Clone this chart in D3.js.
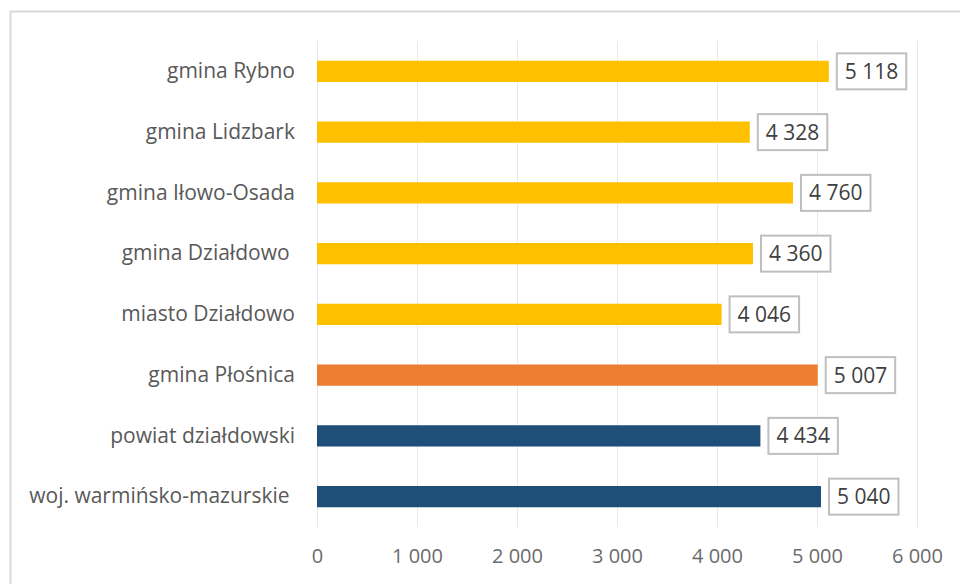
<!DOCTYPE html>
<html>
<head>
<meta charset="utf-8">
<script src="https://cdn.jsdelivr.net/npm/d3@7"></script>
<style>
  body { margin: 0; background: #fff; }
  svg { display: block; font-family: "Open Sans", sans-serif; }
</style>
</head>
<body>
<svg id="chart" width="960" height="584"></svg>
<script>
// Categories (top to bottom) and their values
const categories = [
  "gmina Rybno",
  "gmina Lidzbark",
  "gmina Iłowo-Osada",
  "gmina Działdowo ",
  "miasto Działdowo",
  "gmina Płośnica",
  "powiat działdowski",
  "woj. warmińsko-mazurskie "
];
const values = [5118, 4328, 4760, 4360, 4046, 5007, 4434, 5040];
const barColors = ["#FFC000", "#FFC000", "#FFC000", "#FFC000", "#FFC000", "#ED7D31", "#1F4E79", "#1F4E79"];
const tickValues = [0, 1000, 2000, 3000, 4000, 5000, 6000];

const svg = d3.select("#chart");
const W = 960, H = 584;
const margin = { left: 317, right: 43, top: 41, bottom: 57 };
const FONT = "'Open Sans', sans-serif";

// outer chart frame
svg.append("rect")
  .attr("x", 10.5).attr("y", 11.5)
  .attr("width", 980).attr("height", 600)
  .attr("fill", "#fff").attr("stroke", "#d9d9d9").attr("stroke-width", 2);

const x = d3.scaleLinear().domain([0, 6000]).range([margin.left, W - margin.right]);
const y = d3.scaleBand().domain(categories).range([margin.top, H - margin.bottom]).paddingInner(0.65).paddingOuter(0.325);

const fmtSpace = v => d3.format(",")(v).replace(/,/g, " ");

// vertical gridlines
svg.append("g").selectAll("line").data(tickValues).join("line")
  .attr("x1", d => Math.round(x(d)) + 0.5).attr("x2", d => Math.round(x(d)) + 0.5)
  .attr("y1", margin.top).attr("y2", H - margin.bottom)
  .attr("stroke", "#e8e8e8").attr("stroke-width", 1);

// x axis labels
const xAxis = d3.axisBottom(x).tickValues(tickValues).tickSize(0).tickPadding(0).tickFormat(fmtSpace);
const gx = svg.append("g").attr("transform", `translate(0,${H - margin.bottom + 22})`).call(xAxis);
gx.select(".domain").remove();
gx.selectAll("text").attr("fill", "#6b6b6b").attr("font-size", 20).attr("font-family", FONT);

// category labels
const yAxis = d3.axisLeft(y).tickSize(0).tickPadding(22);
const gy = svg.append("g").attr("transform", `translate(${margin.left},0)`).call(yAxis);
gy.select(".domain").remove();
gy.selectAll("text").attr("fill", "#595959").attr("font-size", 21)
  .attr("font-family", FONT).style("white-space", "pre");

// bars
svg.append("g").selectAll("rect").data(values).join("rect")
  .attr("x", x(0))
  .attr("y", (d, i) => y(categories[i]))
  .attr("width", d => x(d) - x(0))
  .attr("height", y.bandwidth())
  .attr("fill", (d, i) => barColors[i]);

// value labels in boxes
const lbl = svg.append("g").selectAll("g").data(values).join("g")
  .attr("transform", (d, i) => `translate(${x(d) + 8},${y(categories[i]) + y.bandwidth() / 2})`);
lbl.append("text")
  .attr("x", 8).attr("dy", "0.36em")
  .attr("fill", "#404040").attr("font-size", 21)
  .attr("font-family", FONT)
  .text(d => fmtSpace(d));
lbl.each(function () {
  const g = d3.select(this);
  const w = g.select("text").node().getComputedTextLength();
  g.insert("rect", "text")
    .attr("x", 0).attr("y", -18)
    .attr("width", w + 16).attr("height", 36)
    .attr("fill", "#fff").attr("stroke", "#bfbfbf").attr("stroke-width", 2);
});
</script>
</body>
</html>
